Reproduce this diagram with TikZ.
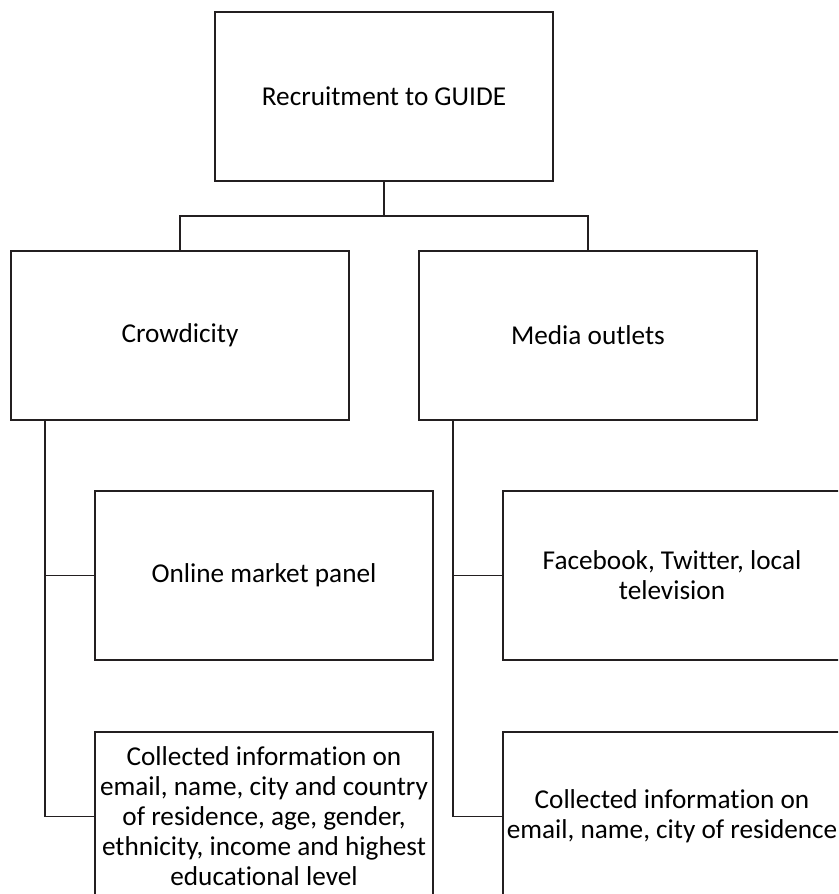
\documentclass[tikz,border=0pt]{standalone}
\usepackage{fontspec}
\setmainfont{Carlito}[Ligatures=NoCommon]
\usepackage{tikz}
\usetikzlibrary{positioning}
\definecolor{BoxLine}{HTML}{231F20}
\tikzset{
  % Box styles
  orgbox/.style={rectangle, draw=BoxLine, line width=1pt, fill=white, minimum width=6.76cm, minimum height=3.38cm, align=center, font=\fontsize{15.5}{17.1}\selectfont, inner sep=0pt, outer sep=0pt},
  % Line styles
  link/.style={draw=BoxLine, line width=1pt}
}

\begin{document}
\begin{tikzpicture}
  % Page frame
  \clip (-7.68,1.93) rectangle (9.08,-15.95);

  % Org chart
  \node[orgbox] (guide) at (0,0) {Recruitment to GUIDE};

  \node[orgbox, below=1.4cm of guide, xshift=-4.08cm] (crowd) {Crowdicity};

  \node[orgbox, right=1.4cm of crowd] (media) {Media outlets};

  \node[orgbox, below=1.42cm of crowd, xshift=1.68cm] (panel) {Online market panel};

  \node[orgbox, below=1.44cm of panel] (crowdinfo) {Collected information on\\email, name, city and country\\of residence, age, gender,\\ethnicity, income and highest\\educational level};

  \node[orgbox, below=1.42cm of media, xshift=1.68cm] (social) {Facebook, Twitter, local\\television};

  \node[orgbox, below=1.44cm of social] (mediainfo) {Collected information on\\email, name, city of residence};

  % Trunks
  \coordinate (trunkL) at ([xshift=0.68cm]crowd.south west);
  \coordinate (trunkR) at ([xshift=0.68cm]media.south west);

  % Lines
  \draw[link] (guide.south) -- ++(0,-0.7) -| (crowd.north);
  \draw[link] (guide.south) -- ++(0,-0.7) -| (media.north);
  \draw[link] (trunkL) |- (crowdinfo.west);
  \draw[link] (trunkL |- panel.west) -- (panel.west);
  \draw[link] (trunkR) |- (mediainfo.west);
  \draw[link] (trunkR |- social.west) -- (social.west);
\end{tikzpicture}
\end{document}
